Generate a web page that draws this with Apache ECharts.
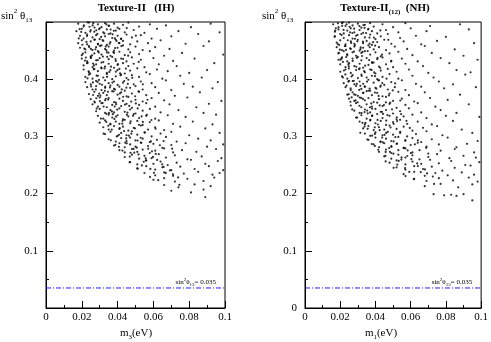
<!DOCTYPE html>
<html>
<head>
<meta charset="utf-8">
<script src="https://cdn.jsdelivr.net/npm/echarts@6.0.0/dist/echarts.min.js"></script>
<style>
  html, body { margin: 0; padding: 0; background: #fff; }
  #main { width: 491px; height: 342px; }
</style>
</head>
<body>
<div id="main"></div>
<script>
(function () {
    'use strict';

    // sin^2 theta13 lower bound drawn as dash-dot line
    var bound = 0.035;
    var boundX = [0, 0.1];

    // Texture-II (IH) : [m3 (eV), sin^2 theta13]
    var ihPoints = [
        [.018,.497],[.021,.492],[.024,.499],[.026,.494],[.029,.496],[.031,.491],[.033,.498],[.035,.493],[.038,.497],[.040,.490],[.043,.495],[.046,.499],[.052,.492],[.058,.496],[.067,.494],[.081,.491],[.092,.497],
        [.017,.484],[.020,.488],[.022,.481],[.025,.486],[.027,.483],[.030,.489],[.032,.482],[.034,.487],[.036,.480],[.039,.485],[.041,.488],[.044,.482],[.049,.486],[.055,.481],[.062,.488],[.074,.484],[.097,.482],
        [.019,.476],[.021,.471],[.023,.478],[.026,.473],[.028,.477],[.030,.470],[.033,.475],[.035,.479],[.037,.472],[.040,.476],[.042,.471],[.045,.478],[.048,.473],[.053,.477],[.059,.471],[.070,.475],[.085,.479],
        [.018,.463],[.020,.468],[.023,.461],[.025,.466],[.027,.469],[.029,.462],[.032,.467],[.034,.460],[.036,.465],[.039,.469],[.041,.463],[.043,.467],[.047,.461],[.051,.466],[.057,.463],[.064,.468],[.078,.462],[.091,.466],
        [.019,.455],[.022,.452],[.024,.458],[.026,.451],[.028,.456],[.031,.459],[.033,.453],[.035,.457],[.038,.450],[.040,.455],[.043,.459],[.046,.452],[.050,.457],[.054,.451],[.061,.456],[.069,.453],[.088,.458],
        [.020,.442],[.022,.447],[.025,.440],[.027,.445],[.029,.449],[.031,.443],[.034,.447],[.036,.441],[.038,.446],[.041,.448],[.044,.442],[.047,.447],[.052,.444],[.058,.449],[.066,.441],[.076,.446],[.099,.443],
        [.020,.436],[.023,.431],[.025,.438],[.028,.433],[.030,.437],[.032,.430],[.035,.435],[.037,.439],[.039,.432],[.042,.436],[.045,.431],[.048,.438],[.053,.434],[.060,.437],[.071,.432],[.083,.436],
        [.021,.424],[.023,.428],[.026,.421],[.028,.426],[.031,.429],[.033,.422],[.035,.427],[.038,.420],[.040,.425],[.043,.428],[.046,.423],[.049,.427],[.055,.421],[.063,.426],[.073,.423],[.094,.428],
        [.021,.417],[.024,.412],[.027,.418],[.029,.414],[.031,.419],[.034,.411],[.036,.416],[.039,.413],[.041,.418],[.044,.410],[.047,.415],[.051,.419],[.056,.412],[.062,.417],[.068,.414],[.080,.411],[.090,.416],
        [.022,.404],[.024,.408],[.026,.401],[.029,.406],[.032,.403],[.034,.409],[.037,.400],[.039,.405],[.042,.408],[.045,.402],[.048,.407],[.052,.404],[.058,.409],[.065,.401],[.075,.406],[.087,.403],
        [.022,.395],[.025,.391],[.028,.397],[.030,.392],[.033,.398],[.035,.393],[.038,.396],[.040,.390],[.043,.394],[.046,.399],[.049,.391],[.053,.396],[.059,.393],[.067,.398],[.077,.392],[.096,.395],
        [.023,.386],[.026,.382],[.028,.388],[.031,.381],[.033,.385],[.036,.389],[.038,.383],[.041,.387],[.044,.380],[.047,.385],[.050,.388],[.054,.382],[.061,.386],[.070,.381],[.082,.387],[.093,.384],
        [.024,.374],[.027,.378],[.029,.371],[.032,.376],[.034,.372],[.037,.379],[.040,.373],[.042,.377],[.045,.370],[.048,.375],[.052,.378],[.056,.372],[.063,.376],[.072,.371],[.086,.377],
        [.025,.365],[.027,.361],[.030,.368],[.033,.363],[.035,.367],[.038,.360],[.041,.366],[.043,.362],[.046,.369],[.050,.364],[.054,.361],[.059,.367],[.066,.363],[.079,.368],[.098,.362],
        [.026,.356],[.029,.352],[.031,.358],[.034,.351],[.037,.355],[.039,.359],[.042,.353],[.045,.357],[.048,.350],[.052,.355],[.056,.358],[.061,.352],[.069,.356],[.084,.351],[.091,.357],
        [.028,.344],[.030,.348],[.033,.341],[.036,.346],[.038,.342],[.041,.349],[.044,.343],[.047,.347],[.050,.340],[.054,.345],[.058,.348],[.064,.342],[.074,.346],[.088,.341],
        [.029,.336],[.032,.331],[.035,.338],[.037,.333],[.040,.337],[.043,.330],[.046,.335],[.049,.339],[.052,.332],[.056,.336],[.061,.331],[.068,.337],[.078,.334],[.095,.338],
        [.030,.324],[.033,.328],[.036,.321],[.039,.326],[.041,.322],[.044,.329],[.047,.323],[.051,.327],[.054,.320],[.058,.325],[.063,.328],[.071,.322],[.082,.326],[.093,.321],
        [.032,.316],[.035,.312],[.038,.318],[.041,.313],[.043,.317],[.046,.310],[.049,.315],[.053,.319],[.057,.312],[.061,.316],[.066,.311],[.075,.317],[.089,.314],
        [.033,.304],[.036,.308],[.040,.301],[.042,.306],[.045,.302],[.048,.309],[.051,.303],[.055,.307],[.059,.300],[.064,.305],[.070,.308],[.080,.302],[.097,.306],
        [.035,.295],[.039,.291],[.042,.297],[.045,.292],[.047,.298],[.050,.293],[.054,.296],[.058,.290],[.062,.294],[.067,.299],[.073,.291],[.085,.296],[.092,.293],
        [.038,.284],[.041,.288],[.044,.281],[.047,.286],[.050,.282],[.053,.289],[.057,.283],[.060,.287],[.065,.280],[.070,.285],[.078,.288],[.090,.282],[.099,.286],
        [.041,.276],[.044,.272],[.048,.278],[.051,.273],[.054,.277],[.058,.271],[.061,.275],[.066,.279],[.071,.272],[.076,.276],[.084,.273],[.095,.278],
        [.044,.264],[.048,.268],[.052,.261],[.055,.266],[.059,.262],[.063,.269],[.067,.263],[.072,.267],[.079,.260],[.087,.265],[.098,.262],
        [.047,.255],[.051,.251],[.056,.258],[.060,.252],[.064,.256],[.068,.250],[.073,.254],[.081,.259],[.089,.252],[.096,.257],
        [.051,.244],[.056,.248],[.061,.242],[.065,.246],[.070,.241],[.075,.247],[.083,.243],[.091,.248],[.099,.241],
        [.055,.236],[.061,.232],[.066,.237],[.071,.231],[.077,.235],[.085,.238],[.093,.233],[.097,.236],
        [.060,.224],[.066,.227],[.072,.221],[.079,.226],[.088,.222],[.094,.228],
        [.066,.215],[.074,.211],[.083,.216],[.092,.213],
        [.070,.205],[.081,.202],[.088,.207],
        [.089,.194]
    ];

    // denser core of the IH cloud
    var ihCore = [
        [.0183,.4712],[.0247,.4833],[.0291,.4608],[.0338,.4957],[.0226,.4651],[.0372,.4784],[.0264,.4979],[.0419,.4702],[.0197,.4826],[.0308,.4739],
        [.0356,.4621],[.0243,.4917],[.0451,.4893],[.0281,.4856],[.0394,.4668],[.0212,.4943],[.0326,.4801],[.0502,.4761],[.0273,.4692],[.0361,.4869],
        [.0214,.4536],[.0257,.4417],[.0302,.4581],[.0349,.4463],[.0233,.4288],[.0388,.4352],[.0276,.4524],[.0421,.4579],[.0318,.4396],[.0206,.4447],
        [.0363,.4219],[.0459,.4411],[.0289,.4333],[.0241,.4562],[.0402,.4265],[.0337,.4508],[.0518,.4302],[.0268,.4241],[.0376,.4475],[.0223,.4379],
        [.0238,.4137],[.0283,.4062],[.0327,.4189],[.0371,.3941],[.0252,.3874],[.0414,.4103],[.0296,.3988],[.0449,.3852],[.0341,.4041],[.0232,.4016],
        [.0386,.3819],[.0267,.4172],[.0482,.4024],[.0313,.3903],[.0357,.3856],[.0437,.3967],[.0541,.3911],[.0278,.3821],[.0399,.4158],[.0329,.3797],
        [.0263,.3724],[.0301,.3618],[.0346,.3779],[.0392,.3562],[.0283,.3487],[.0431,.3693],[.0322,.3521],[.0476,.3608],[.0368,.3436],[.0273,.3593],
        [.0413,.3751],[.0512,.3489],[.0334,.3657],[.0455,.3415],[.0297,.3748],[.0384,.3523],[.0567,.3641],[.0441,.3557],[.0352,.3411],[.0498,.3702],
        [.0307,.3312],[.0348,.3186],[.0391,.3347],[.0436,.3093],[.0322,.3048],[.0473,.3261],[.0367,.3117],[.0519,.3204],[.0408,.3029],[.0337,.3253],
        [.0452,.3378],[.0553,.3066],[.0382,.3305],[.0497,.3141],[.0426,.3223],[.0589,.3287],[.0463,.3012],[.0534,.3349],
        [.0362,.2931],[.0407,.2817],[.0448,.2964],[.0493,.2716],[.0388,.2852],[.0532,.2889],[.0427,.2752],[.0571,.2783],[.0468,.2647],[.0512,.2928],
        [.0613,.2694],[.0451,.2879],[.0557,.2618],[.0636,.2845],[.0489,.2781],[.0592,.2739],
        [.0467,.2548],[.0512,.2436],[.0558,.2579],[.0603,.2364],[.0536,.2493],[.0649,.2512],[.0581,.2291],[.0692,.2407],[.0627,.2235],[.0738,.2283],
        [.0669,.2361],[.0745,.2154],
        [.0188,.4874],[.0229,.4756],[.0271,.4903],[.0316,.4684],[.0352,.4938],[.0203,.4602],[.0287,.4791],[.0334,.4572],[.0379,.4847],[.0251,.4529],
        [.0407,.4633],[.0295,.4468],[.0218,.4325],[.0342,.4391],[.0263,.4274],[.0386,.4544],[.0431,.4357],[.0309,.4203],[.0247,.4096],[.0354,.4127],
        [.0288,.3952],[.0416,.4068],[.0331,.3869],[.0262,.3943],[.0378,.3785],[.0457,.3917],[.0304,.3712],[.0423,.3821],[.0347,.3643],[.0281,.3667],
        [.0465,.3532],[.0398,.3467],[.0316,.3584],[.0373,.3388],[.0502,.3576],[.0428,.3273],[.0338,.3394],[.0486,.3359],[.0359,.3221],[.0541,.3253],
        [.0412,.3146],[.0477,.3047],[.0395,.2998],[.0529,.2976],[.0443,.2891],[.0586,.2912],[.0507,.2803],[.0472,.2714],[.0598,.2642],[.0546,.2557],
        [.0517,.2685],[.0621,.2589],[.0583,.2432],[.0657,.2467],[.0709,.2338],
        [.0233,.4994],[.0297,.4876],[.0385,.4712],[.0251,.4372],[.0446,.4186],[.0517,.3788],[.0563,.3377],[.0612,.3134],[.0657,.2918],[.0705,.2786]
    ];

    // Texture-II(12) (NH) : [m1 (eV), sin^2 theta13]
    var nhPoints = [
        [.016,.496],[.019,.491],[.021,.498],[.023,.493],[.025,.499],[.027,.494],[.030,.497],[.032,.490],[.034,.495],[.037,.498],[.039,.492],[.044,.496],[.050,.491],[.057,.498],[.071,.493],[.088,.496],
        [.017,.483],[.019,.487],[.022,.480],[.024,.485],[.026,.489],[.028,.482],[.031,.486],[.033,.481],[.036,.488],[.038,.484],[.041,.480],[.046,.486],[.053,.482],[.060,.489],[.069,.484],[.093,.487],
        [.017,.475],[.020,.479],[.022,.472],[.025,.477],[.027,.471],[.029,.476],[.032,.479],[.034,.473],[.037,.478],[.040,.470],[.043,.475],[.047,.479],[.054,.472],[.063,.476],[.080,.474],
        [.018,.464],[.020,.468],[.023,.461],[.026,.466],[.028,.462],[.030,.469],[.033,.463],[.035,.467],[.038,.460],[.041,.465],[.045,.469],[.049,.462],[.056,.466],[.066,.461],[.075,.467],[.096,.463],
        [.018,.456],[.021,.451],[.023,.458],[.026,.453],[.028,.457],[.031,.450],[.033,.455],[.036,.459],[.039,.452],[.042,.456],[.046,.451],[.051,.457],[.058,.453],[.068,.458],[.085,.452],
        [.019,.445],[.022,.449],[.024,.442],[.027,.447],[.029,.441],[.032,.446],[.034,.449],[.037,.443],[.040,.447],[.043,.440],[.048,.445],[.053,.448],[.061,.442],[.072,.446],[.090,.441],
        [.019,.434],[.021,.438],[.024,.431],[.027,.436],[.030,.439],[.032,.433],[.035,.437],[.038,.430],[.041,.435],[.044,.438],[.049,.432],[.055,.436],[.064,.431],[.077,.437],[.098,.434],
        [.020,.426],[.023,.421],[.025,.428],[.028,.423],[.031,.427],[.033,.420],[.036,.425],[.039,.429],[.042,.422],[.046,.426],[.050,.421],[.057,.427],[.067,.423],[.082,.428],
        [.020,.413],[.023,.417],[.026,.411],[.029,.416],[.031,.419],[.034,.412],[.037,.417],[.040,.410],[.043,.415],[.047,.418],[.052,.413],[.059,.417],[.070,.411],[.086,.416],[.094,.412],
        [.021,.405],[.024,.401],[.027,.407],[.030,.402],[.032,.408],[.035,.403],[.038,.406],[.041,.400],[.044,.404],[.048,.409],[.053,.401],[.061,.406],[.073,.403],[.091,.408],
        [.022,.393],[.025,.397],[.028,.391],[.031,.396],[.033,.392],[.036,.399],[.039,.394],[.042,.398],[.045,.390],[.049,.395],[.055,.398],[.063,.392],[.076,.396],[.084,.391],
        [.023,.386],[.026,.381],[.029,.388],[.032,.383],[.034,.387],[.037,.380],[.040,.385],[.043,.389],[.047,.382],[.051,.386],[.057,.381],[.066,.387],[.079,.384],[.097,.386],
        [.024,.373],[.027,.377],[.030,.371],[.033,.376],[.035,.379],[.038,.372],[.041,.376],[.044,.370],[.048,.375],[.053,.378],[.059,.372],[.068,.377],[.088,.373],
        [.025,.366],[.028,.362],[.031,.368],[.034,.363],[.036,.367],[.039,.360],[.042,.365],[.046,.369],[.050,.362],[.055,.366],[.062,.361],[.071,.367],[.081,.364],
        [.026,.354],[.029,.358],[.032,.351],[.035,.356],[.038,.352],[.041,.359],[.044,.353],[.048,.357],[.052,.350],[.057,.355],[.064,.358],[.074,.352],[.093,.356],
        [.028,.345],[.031,.341],[.034,.347],[.037,.342],[.040,.348],[.043,.343],[.046,.346],[.050,.340],[.054,.344],[.059,.349],[.066,.342],[.077,.346],[.086,.341],
        [.029,.333],[.032,.337],[.035,.331],[.038,.336],[.041,.339],[.044,.332],[.048,.336],[.052,.330],[.056,.335],[.061,.338],[.069,.332],[.080,.336],[.099,.334],
        [.031,.326],[.034,.321],[.037,.328],[.040,.323],[.043,.327],[.046,.320],[.050,.325],[.054,.329],[.058,.322],[.064,.326],[.072,.321],[.084,.327],
        [.033,.314],[.036,.318],[.039,.311],[.042,.316],[.045,.312],[.048,.319],[.052,.313],[.056,.317],[.061,.310],[.067,.315],[.075,.318],[.089,.312],
        [.034,.305],[.037,.301],[.040,.307],[.044,.302],[.047,.308],[.050,.303],[.054,.306],[.058,.300],[.063,.304],[.069,.309],[.078,.302],[.095,.306],
        [.036,.294],[.040,.298],[.043,.291],[.046,.296],[.049,.292],[.053,.299],[.057,.293],[.061,.297],[.066,.290],[.072,.295],[.081,.298],[.098,.292],
        [.039,.286],[.042,.281],[.045,.288],[.049,.283],[.052,.287],[.056,.280],[.060,.285],[.064,.289],[.069,.282],[.076,.286],[.086,.281],[.092,.287],
        [.042,.273],[.046,.277],[.049,.271],[.053,.276],[.057,.279],[.061,.272],[.065,.276],[.070,.270],[.077,.275],[.085,.278],[.096,.272],
        [.045,.265],[.049,.261],[.053,.268],[.057,.263],[.061,.267],[.065,.260],[.070,.264],[.075,.269],[.082,.262],[.090,.266],[.097,.263],
        [.048,.254],[.052,.258],[.057,.251],[.061,.256],[.066,.252],[.071,.259],[.076,.253],[.083,.257],[.091,.250],[.099,.255],
        [.052,.246],[.057,.242],[.062,.248],[.067,.243],[.072,.247],[.078,.240],[.085,.245],[.094,.249],
        [.056,.234],[.062,.238],[.068,.231],[.074,.236],[.081,.232],[.089,.237],[.096,.233],
        [.062,.226],[.069,.222],[.076,.227],[.084,.223],[.093,.228],[.098,.221],
        [.068,.213],[.077,.217],[.087,.211],[.095,.216],
        [.073,.199],[.079,.197],[.083,.198],[.086,.196],[.090,.199],
        [.095,.188]
    ];

    // denser core of the NH cloud
    var nhCore = [
        [.0168,.4743],[.0219,.4862],[.0262,.4634],[.0309,.4928],[.0194,.4598],[.0347,.4806],[.0236,.4961],[.0391,.4727],[.0175,.4891],[.0284,.4705],
        [.0329,.4657],[.0211,.4934],[.0428,.4852],[.0256,.4819],[.0367,.4621],[.0187,.4977],[.0298,.4774],[.0473,.4689],[.0243,.4681],[.0338,.4899],
        [.0198,.4517],[.0239,.4436],[.0283,.4594],[.0327,.4478],[.0215,.4302],[.0364,.4334],[.0256,.4541],[.0398,.4586],[.0294,.4373],[.0192,.4462],
        [.0341,.4237],[.0437,.4428],[.0271,.4319],[.0226,.4579],[.0381,.4283],[.0315,.4526],[.0489,.4311],[.0249,.4226],[.0356,.4492],[.0207,.4358],
        [.0221,.4152],[.0264,.4047],[.0307,.4174],[.0352,.3958],[.0236,.3889],[.0393,.4119],[.0277,.3973],[.0428,.3868],[.0322,.4056],[.0215,.4031],
        [.0367,.3836],[.0249,.4189],[.0463,.4009],[.0294,.3918],[.0339,.3871],[.0416,.3982],[.0512,.3926],[.0259,.3838],[.0378,.4163],[.0308,.3812],
        [.0248,.3737],[.0287,.3631],[.0331,.3762],[.0376,.3577],[.0268,.3472],[.0418,.3708],[.0309,.3536],[.0459,.3594],[.0353,.3451],[.0258,.3606],
        [.0397,.3766],[.0494,.3474],[.0319,.3672],[.0437,.3429],[.0279,.3733],[.0369,.3508],[.0541,.3628],[.0424,.3542],[.0338,.3426],[.0476,.3717],
        [.0296,.3327],[.0338,.3171],[.0382,.3362],[.0424,.3108],[.0314,.3063],[.0461,.3276],[.0356,.3132],[.0503,.3219],[.0397,.3044],[.0326,.3238],
        [.0443,.3393],[.0541,.3081],[.0371,.3291],[.0486,.3156],[.0414,.3208],[.0576,.3272],[.0452,.3027],[.0521,.3334],
        [.0354,.2946],[.0397,.2832],[.0438,.2979],[.0482,.2731],[.0379,.2867],[.0523,.2874],[.0416,.2767],[.0562,.2798],[.0457,.2662],[.0503,.2913],
        [.0601,.2709],[.0442,.2894],[.0548,.2633],[.0624,.2861],[.0478,.2796],[.0583,.2754],
        [.0458,.2563],[.0503,.2451],[.0547,.2594],[.0592,.2379],[.0524,.2508],[.0637,.2527],[.0571,.2306],[.0681,.2422],[.0618,.2251],[.0726,.2298],
        [.0657,.2376],[.0733,.2169],
        [.0172,.4851],[.0208,.4772],[.0253,.4916],[.0297,.4663],[.0332,.4947],[.0186,.4614],[.0269,.4808],[.0316,.4557],[.0358,.4869],[.0233,.4513],
        [.0387,.4648],[.0278,.4483],[.0201,.4341],[.0324,.4406],[.0246,.4258],[.0368,.4559],[.0412,.4372],[.0291,.4218],[.0229,.4083],[.0336,.4141],
        [.0271,.3967],[.0397,.4053],[.0314,.3884],[.0246,.3956],[.0361,.3798],[.0439,.3932],[.0287,.3726],[.0405,.3834],[.0329,.3656],[.0265,.3681],
        [.0448,.3547],[.0381,.3483],[.0299,.3597],[.0356,.3402],[.0484,.3589],[.0412,.3288],[.0321,.3407],[.0468,.3372],[.0343,.3235],[.0523,.3268],
        [.0396,.3159],[.0461,.3061],[.0381,.3012],[.0513,.2989],[.0428,.2906],[.0569,.2927],[.0491,.2818],[.0458,.2729],[.0581,.2657],[.0532,.2571],
        [.0502,.2698],[.0604,.2603],[.0568,.2447],[.0641,.2482],[.0693,.2352],
        [.0214,.4992],[.0279,.4883],[.0366,.4728],[.0234,.4387],[.0427,.4199],[.0498,.3803],[.0546,.3391],[.0595,.3148],[.0641,.2933],[.0688,.2801]
    ];

    var serif = 'Liberation Serif';
    var lineBlue = '#2020ff';

    var dom = document.getElementById('main');
    var myChart = echarts.init(dom, null, { renderer: 'canvas' });

    // rich text pieces shared by titles/labels
    var rich = {
        n: { fontFamily: serif, fontSize: 11, fontWeight: 'normal', color: '#000', lineHeight: 16 },
        b: { fontFamily: serif, fontSize: 11, fontWeight: 'bold', color: '#000', lineHeight: 16 },
        bsub: { fontFamily: serif, fontSize: 7, fontWeight: 'bold', color: '#000', lineHeight: 8, verticalAlign: 'bottom' },
        sup: { fontFamily: serif, fontSize: 7, fontWeight: 'normal', color: '#000', lineHeight: 8, verticalAlign: 'top' },
        sub: { fontFamily: serif, fontSize: 7, fontWeight: 'normal', color: '#000', lineHeight: 8, verticalAlign: 'bottom' }
    };
    var richSmall = {
        n: { fontFamily: serif, fontSize: 7, fontWeight: 'normal', color: '#000', lineHeight: 10 },
        sup: { fontFamily: serif, fontSize: 5, fontWeight: 'normal', color: '#000', lineHeight: 5, verticalAlign: 'top' },
        sub: { fontFamily: serif, fontSize: 5, fontWeight: 'normal', color: '#000', lineHeight: 5, verticalAlign: 'bottom' }
    };

    function xAxisOf(idx) {
        return {
            gridIndex: idx,
            type: 'value',
            min: 0,
            max: 0.1,
            interval: 0.02,
            axisLine: { show: true, lineStyle: { color: '#000', width: 1 } },
            axisTick: { show: true, inside: true, length: 7, lineStyle: { color: '#000' } },
            minorTick: { show: true, splitNumber: 2, length: 3, lineStyle: { color: '#000' } },
            axisLabel: { color: '#000', fontFamily: serif, fontSize: 11, margin: 4 },
            splitLine: { show: false }
        };
    }

    function yAxisOf(idx, showZero) {
        return {
            gridIndex: idx,
            type: 'value',
            min: 0,
            max: 0.5,
            interval: 0.1,
            axisLine: { show: true, lineStyle: { color: '#000', width: 1 } },
            axisTick: { show: true, inside: true, length: 7, lineStyle: { color: '#000' } },
            minorTick: { show: true, splitNumber: 2, length: 3, lineStyle: { color: '#000' } },
            axisLabel: {
                color: '#000', fontFamily: serif, fontSize: 11, margin: 8,
                showMinLabel: showZero, showMaxLabel: false
            },
            splitLine: { show: false }
        };
    }

    function scatterOf(idx, pts) {
        return {
            type: 'scatter',
            xAxisIndex: idx,
            yAxisIndex: idx,
            data: pts,
            symbol: 'circle',
            symbolSize: 2.2,
            itemStyle: { color: '#000' },
            silent: true,
            animation: false
        };
    }

    // dash-dot reference line with its small label at the right end
    function boundOf(idx) {
        return {
            type: 'line',
            xAxisIndex: idx,
            yAxisIndex: idx,
            silent: true,
            animation: false,
            symbol: 'circle',
            symbolSize: 0,
            showSymbol: true,
            color: lineBlue,
            lineStyle: { color: lineBlue, width: 1, type: [5, 2, 1, 2] },
            data: [
                [boundX[0], bound],
                {
                    value: [boundX[1], bound],
                    label: {
                        show: true,
                        position: 'top',
                        align: 'right',
                        distance: 1,
                        offset: [-9, 0],
                        formatter: '{n|sin}{sup|2}{n|θ}{sub|13}{n|= 0.035}',
                        rich: richSmall
                    }
                }
            ]
        };
    }

    var option = {
        backgroundColor: '#fff',
        animation: false,
        title: [
            { text: '{b|Texture-II   (IH)}', left: 136, top: 0, textAlign: 'center', padding: 0, textStyle: { rich: rich } },
            { text: '{b|Texture-II}{bsub|(12)}{b|  (NH)}', left: 385, top: 0, textAlign: 'center', padding: 0, textStyle: { rich: rich } },
            { text: '{n|sin}{sup|2}{n| θ}{sub|13}', left: 1, top: 8, padding: 0, textStyle: { rich: rich } },
            { text: '{n|sin}{sup|2}{n| θ}{sub|13}', left: 262, top: 8, padding: 0, textStyle: { rich: rich } },
            { text: '{n|m}{sub|3}{n|(eV)}', left: 136, top: 325, textAlign: 'center', padding: 0, textStyle: { rich: rich } },
            { text: '{n|m}{sub|1}{n|(eV)}', left: 381, top: 325, textAlign: 'center', padding: 0, textStyle: { rich: rich } }
        ],
        grid: [
            { left: 46, top: 22, width: 179, height: 286, show: true, borderColor: '#000', borderWidth: 1, backgroundColor: 'transparent' },
            { left: 305, top: 22, width: 179, height: 286, show: true, borderColor: '#000', borderWidth: 1, backgroundColor: 'transparent' }
        ],
        xAxis: [xAxisOf(0), xAxisOf(1)],
        yAxis: [yAxisOf(0, false), yAxisOf(1, true)],
        series: [
            scatterOf(0, ihPoints), scatterOf(0, ihCore),
            scatterOf(1, nhPoints), scatterOf(1, nhCore),
            boundOf(0), boundOf(1)
        ]
    };

    myChart.setOption(option, true);
}());
</script>
</body>
</html>
